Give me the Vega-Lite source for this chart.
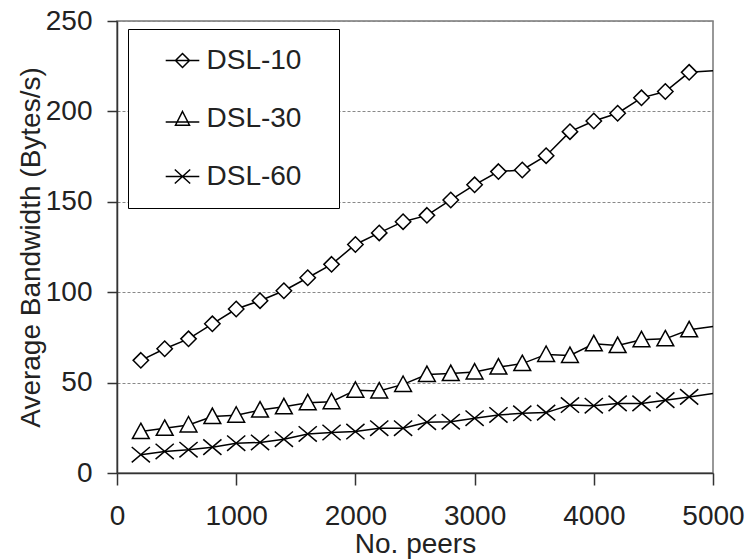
{
  "$schema": "https://vega.github.io/schema/vega-lite/v6.json",
  "width": 596,
  "height": 452,
  "autosize": {"type": "none"},
  "padding": {"left": 117, "top": 21, "right": 40, "bottom": 87},
  "background": "white",
  "config": {
    "font": "Liberation Sans",
    "view": {"stroke": "#777", "strokeWidth": 1.5},
    "axis": {
      "labelFont": "Liberation Sans",
      "titleFont": "Liberation Sans",
      "labelFontSize": 28,
      "titleFontSize": 28,
      "titleFontWeight": "normal",
      "labelColor": "#222",
      "titleColor": "#222",
      "domainColor": "#333",
      "tickColor": "#333",
      "domainWidth": 1.5,
      "tickWidth": 1.5
    }
  },
  "data": {
    "values": [
      {"peers": 200, "bandwidth": 62.3, "series": "DSL-10"},
      {"peers": 400, "bandwidth": 68.7, "series": "DSL-10"},
      {"peers": 600, "bandwidth": 74.2, "series": "DSL-10"},
      {"peers": 800, "bandwidth": 82.5, "series": "DSL-10"},
      {"peers": 1000, "bandwidth": 90.7, "series": "DSL-10"},
      {"peers": 1200, "bandwidth": 95.3, "series": "DSL-10"},
      {"peers": 1400, "bandwidth": 100.8, "series": "DSL-10"},
      {"peers": 1600, "bandwidth": 108, "series": "DSL-10"},
      {"peers": 1800, "bandwidth": 115.4, "series": "DSL-10"},
      {"peers": 2000, "bandwidth": 126.4, "series": "DSL-10"},
      {"peers": 2200, "bandwidth": 132.8, "series": "DSL-10"},
      {"peers": 2400, "bandwidth": 139, "series": "DSL-10"},
      {"peers": 2600, "bandwidth": 142.5, "series": "DSL-10"},
      {"peers": 2800, "bandwidth": 151, "series": "DSL-10"},
      {"peers": 3000, "bandwidth": 159.4, "series": "DSL-10"},
      {"peers": 3200, "bandwidth": 166.7, "series": "DSL-10"},
      {"peers": 3400, "bandwidth": 167.6, "series": "DSL-10"},
      {"peers": 3600, "bandwidth": 175.5, "series": "DSL-10"},
      {"peers": 3800, "bandwidth": 188.8, "series": "DSL-10"},
      {"peers": 4000, "bandwidth": 194.7, "series": "DSL-10"},
      {"peers": 4200, "bandwidth": 199, "series": "DSL-10"},
      {"peers": 4400, "bandwidth": 207.5, "series": "DSL-10"},
      {"peers": 4600, "bandwidth": 211, "series": "DSL-10"},
      {"peers": 4800, "bandwidth": 221.6, "series": "DSL-10"},
      {"peers": 5000, "bandwidth": 222.5, "series": "DSL-10"},
      {"peers": 200, "bandwidth": 22.9, "series": "DSL-30"},
      {"peers": 400, "bandwidth": 24.7, "series": "DSL-30"},
      {"peers": 600, "bandwidth": 26.6, "series": "DSL-30"},
      {"peers": 800, "bandwidth": 31.2, "series": "DSL-30"},
      {"peers": 1000, "bandwidth": 32, "series": "DSL-30"},
      {"peers": 1200, "bandwidth": 34.8, "series": "DSL-30"},
      {"peers": 1400, "bandwidth": 36.6, "series": "DSL-30"},
      {"peers": 1600, "bandwidth": 38.9, "series": "DSL-30"},
      {"peers": 1800, "bandwidth": 39.4, "series": "DSL-30"},
      {"peers": 2000, "bandwidth": 45.8, "series": "DSL-30"},
      {"peers": 2200, "bandwidth": 45.4, "series": "DSL-30"},
      {"peers": 2400, "bandwidth": 49, "series": "DSL-30"},
      {"peers": 2600, "bandwidth": 54.5, "series": "DSL-30"},
      {"peers": 2800, "bandwidth": 55, "series": "DSL-30"},
      {"peers": 3000, "bandwidth": 55.9, "series": "DSL-30"},
      {"peers": 3200, "bandwidth": 58.6, "series": "DSL-30"},
      {"peers": 3400, "bandwidth": 60.5, "series": "DSL-30"},
      {"peers": 3600, "bandwidth": 65.6, "series": "DSL-30"},
      {"peers": 3800, "bandwidth": 65, "series": "DSL-30"},
      {"peers": 4000, "bandwidth": 71.5, "series": "DSL-30"},
      {"peers": 4200, "bandwidth": 70.5, "series": "DSL-30"},
      {"peers": 4400, "bandwidth": 73.7, "series": "DSL-30"},
      {"peers": 4600, "bandwidth": 74.2, "series": "DSL-30"},
      {"peers": 4800, "bandwidth": 79.2, "series": "DSL-30"},
      {"peers": 5000, "bandwidth": 81, "series": "DSL-30"},
      {"peers": 200, "bandwidth": 10.1, "series": "DSL-60"},
      {"peers": 400, "bandwidth": 11.9, "series": "DSL-60"},
      {"peers": 600, "bandwidth": 12.9, "series": "DSL-60"},
      {"peers": 800, "bandwidth": 14.3, "series": "DSL-60"},
      {"peers": 1000, "bandwidth": 16.5, "series": "DSL-60"},
      {"peers": 1200, "bandwidth": 16.9, "series": "DSL-60"},
      {"peers": 1400, "bandwidth": 18.7, "series": "DSL-60"},
      {"peers": 1600, "bandwidth": 21.6, "series": "DSL-60"},
      {"peers": 1800, "bandwidth": 22.4, "series": "DSL-60"},
      {"peers": 2000, "bandwidth": 22.9, "series": "DSL-60"},
      {"peers": 2200, "bandwidth": 24.8, "series": "DSL-60"},
      {"peers": 2400, "bandwidth": 24.8, "series": "DSL-60"},
      {"peers": 2600, "bandwidth": 28.1, "series": "DSL-60"},
      {"peers": 2800, "bandwidth": 28.4, "series": "DSL-60"},
      {"peers": 3000, "bandwidth": 30.3, "series": "DSL-60"},
      {"peers": 3200, "bandwidth": 32.1, "series": "DSL-60"},
      {"peers": 3400, "bandwidth": 33, "series": "DSL-60"},
      {"peers": 3600, "bandwidth": 33.4, "series": "DSL-60"},
      {"peers": 3800, "bandwidth": 37.6, "series": "DSL-60"},
      {"peers": 4000, "bandwidth": 37.2, "series": "DSL-60"},
      {"peers": 4200, "bandwidth": 38.5, "series": "DSL-60"},
      {"peers": 4400, "bandwidth": 38.5, "series": "DSL-60"},
      {"peers": 4600, "bandwidth": 40.3, "series": "DSL-60"},
      {"peers": 4800, "bandwidth": 42.1, "series": "DSL-60"},
      {"peers": 5000, "bandwidth": 44, "series": "DSL-60"}
    ]
  },
  "encoding": {
    "x": {
      "field": "peers",
      "type": "quantitative",
      "scale": {"domain": [0, 5000], "nice": false, "zero": false},
      "axis": {
        "title": "No. peers",
        "values": [0, 1000, 2000, 3000, 4000, 5000],
        "format": "d",
        "grid": false,
        "tickSize": 12,
        "labelPadding": 17,
        "labelFlush": false,
        "titlePadding": 0
      }
    },
    "y": {
      "field": "bandwidth",
      "type": "quantitative",
      "scale": {"domain": [0, 250], "nice": false},
      "axis": {
        "title": "Average Bandwidth (Bytes/s)",
        "values": [0, 50, 100, 150, 200, 250],
        "grid": true,
        "gridDash": [3, 2],
        "gridColor": "#888",
        "gridWidth": 1,
        "tickSize": 10,
        "labelPadding": 15,
        "titlePadding": 0
      }
    }
  },
  "layer": [
    {
      "mark": {"type": "line", "color": "black", "strokeWidth": 1.5},
      "encoding": {"detail": {"field": "series", "type": "nominal"}}
    },
    {
      "transform": [{"filter": "datum.peers < 5000"}],
      "mark": {"type": "point", "filled": true, "fill": "white", "stroke": "black", "strokeWidth": 1.5, "size": 196, "opacity": 1},
      "encoding": {
        "shape": {
          "field": "series",
          "type": "nominal",
          "scale": {
            "domain": ["DSL-10", "DSL-30", "DSL-60"],
            "range": ["M0,-1.1L1.1,0L0,1.1L-1.1,0Z", "M0,-1.2L1.2,1L-1.2,1Z", "M-1.3,-1.1L1.3,1.1M-1.3,1.1L1.3,-1.1"]
          },
          "legend": null
        }
      }
    },
    {
      "mark": {"type": "point", "filled": false, "color": "black", "strokeWidth": 1.5, "size": 196, "opacity": 0},
      "encoding": {
        "shape": {
          "field": "series",
          "type": "nominal",
          "scale": {
            "domain": ["DSL-10", "DSL-30", "DSL-60"],
            "range": ["M-2.4,0H2.4M0,-1L1,0L0,1L-1,0Z", "M-2.4,0.5H2.4M0,-1L1,0.95L-1,0.95Z", "M-2.4,0H2.4M-1.1,-1L1.1,1M-1.1,1L1.1,-1"]
          },
          "legend": {
            "title": "\u00a0",
            "titleOrient": "right",
            "titlePadding": 20,
            "titleFontSize": 10,
            "orient": "none",
            "legendX": 11,
            "legendY": 8,
            "strokeColor": "black",
            "fillColor": "white",
            "padding": 17.5,
            "rowPadding": 30,
            "symbolOffset": 23,
            "labelOffset": 10,
            "labelFont": "Liberation Sans",
            "labelFontSize": 28,
            "labelColor": "#222",
            "symbolSize": 196,
            "symbolStrokeWidth": 1.5,
            "symbolStrokeColor": "black",
            "symbolFillColor": "transparent",
            "symbolOpacity": 1
          }
        }
      }
    }
  ],
  "resolve": {"scale": {"shape": "independent"}, "legend": {"shape": "independent"}}
}
